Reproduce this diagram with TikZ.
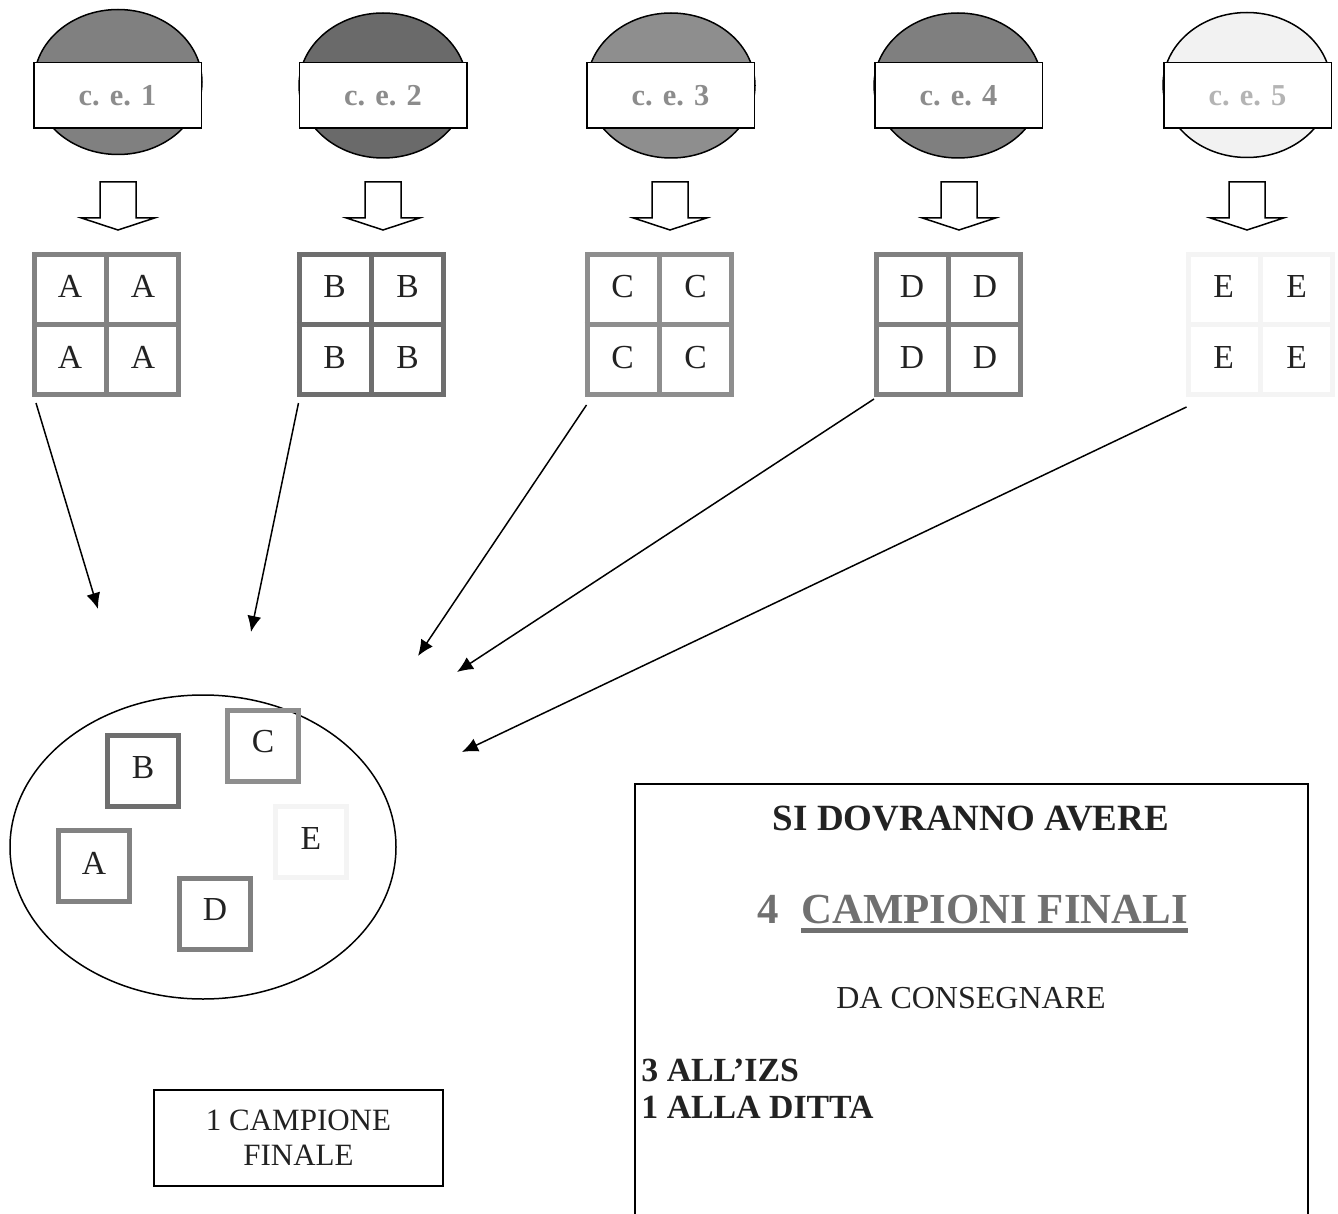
\documentclass[tikz,border=0pt]{standalone}
\usepackage{fontspec}
\setmainfont{Liberation Serif}
\usetikzlibrary{shapes.geometric,arrows.meta,calc}
\definecolor{ellA}{HTML}{808080}
\definecolor{ellB}{HTML}{6A6A6A}
\definecolor{ellC}{HTML}{8E8E8E}
\definecolor{ellD}{HTML}{7F7F7F}
\definecolor{ellE}{HTML}{F2F2F2}
\definecolor{grA}{HTML}{828282}
\definecolor{grB}{HTML}{6E6E6E}
\definecolor{grC}{HTML}{8E8E8E}
\definecolor{grD}{HTML}{808080}
\definecolor{grE}{HTML}{F4F4F4}
\definecolor{cetext}{HTML}{8C8C8C}
\definecolor{cetextE}{HTML}{B4B4B4}
\definecolor{darktext}{HTML}{222222}
\definecolor{campcol}{HTML}{707070}
\begin{document}
\begin{tikzpicture}[x=0.5pt,y=-0.5pt,
  topell/.style={ellipse, draw=black, line width=0.75pt, minimum width=84pt, minimum height=72.5pt, inner sep=0pt},
  celabel/.style={draw=black, fill=white, line width=0.75pt, minimum width=83.75pt, minimum height=32.75pt, inner sep=0pt, font=\fontsize{15.2}{17}\selectfont\bfseries},
  blockarr/.style={draw=black, fill=white, line width=0.75pt, line join=miter},
  gridbox/.style={draw=#1, line width=2.5pt, minimum width=72pt, minimum height=70pt, inner sep=0pt},
  gridline/.style={draw=#1, line width=2.5pt},
  cellletter/.style={inner sep=0pt, text=darktext, font=\fontsize{16.8}{18}\selectfont},
  smallsq/.style={draw=#1, line width=2.5pt, minimum width=35.5pt, minimum height=35.5pt, inner sep=0pt},
  thinarr/.style={draw=black, line width=0.75pt, -{Latex[length=8pt,width=7pt]}},
  txt/.style={inner sep=0pt}
]
\useasboundingbox (0,0) rectangle (1338,1214);

% ---------- top ellipses with labels ----------
\node[topell, fill=ellA] (e1) at (118,82) {};
\node[topell, fill=ellB] (e2) at (383,85.5) {};
\node[topell, fill=ellC] (e3) at (671,85.5) {};
\node[topell, fill=ellD] (e4) at (958,85.5) {};
\node[topell, fill=ellE] (e5) at (1247,85) {};

\node[celabel, text=cetext] (l1) at (117.5,95.5) {c. e. 1};
\node[celabel, text=cetext] (l2) at (383,95.5) {c. e. 2};
\node[celabel, text=cetext] (l3) at (670.5,95.5) {c. e. 3};
\node[celabel, text=cetext] (l4) at (958.5,95.5) {c. e. 4};
\node[celabel, text=cetextE] (l5) at (1247.5,95.5) {c. e. 5};

% ---------- hollow block arrows ----------
\foreach \ax in {118,383,670,959,1247}{
  \draw[blockarr] (\ax-18,182) -- (\ax+18,182) -- (\ax+18,218) -- (\ax+36.5,218)
     -- (\ax,230) -- (\ax-36.5,218) -- (\ax-18,218) -- cycle;
}

% ---------- 2x2 grids ----------
\foreach \n/\gx/\col/\L in {1/106.5/grA/A, 2/371/grB/B, 3/659/grC/C, 4/948.5/grD/D, 5/1260/grE/E}{
  \node[gridbox=\col] (g\n) at (\gx,324.5) {};
  \draw[gridline=\col] (g\n.north) -- (g\n.south);
  \draw[gridline=\col] (g\n.west) -- (g\n.east);
  \node[cellletter] (g\n a) at ($(g\n.center)+(-36.5,-38)$) {\L};
  \node[cellletter] (g\n b) at ($(g\n.center)+(36.5,-38)$) {\L};
  \node[cellletter] (g\n c) at ($(g\n.center)+(-36.5,33)$) {\L};
  \node[cellletter] (g\n d) at ($(g\n.center)+(36.5,33)$) {\L};
}

% ---------- thin arrows ----------
\coordinate (t1) at (98,609);
\coordinate (t2) at (251,632);
\coordinate (t3) at (418,656);
\coordinate (t4) at (457,672);
\coordinate (t5) at (462,752);
\draw[thinarr] ([shift={(2pt,-3pt)}]g1.south west) -- (t1);
\draw[thinarr] ([shift={(1pt,-3pt)}]g2.south west) -- (t2);
\draw[thinarr] ([shift={(1pt,-4pt)}]g3.south west) -- (t3);
\draw[thinarr] ([shift={(0pt,-1pt)}]g4.south west) -- (t4);
\draw[thinarr] ([shift={(0.5pt,-5pt)}]g5.south west) -- (t5);

% ---------- pooled sample ----------
\node[ellipse, draw=black, line width=0.75pt, minimum width=193pt, minimum height=152pt, inner sep=0pt] (pool) at (203,847) {};
\node[smallsq=grB] (sB) at (142.5,770.5) {};
\node[cellletter] at (143,768) {B};
\node[smallsq=grC] (sC) at (263,746) {};
\node[cellletter] at (263,742) {C};
\node[smallsq=grE] (sE) at (311,842) {};
\node[cellletter] at (311,838) {E};
\node[smallsq=grA] (sA) at (94,866) {};
\node[cellletter] at (94,863) {A};
\node[smallsq=grD] (sD) at (215,914) {};
\node[cellletter] at (215,910) {D};

% ---------- 1 campione finale ----------
\node[draw=black, line width=0.75pt, minimum width=144.5pt, minimum height=48pt, inner sep=0pt,
      align=center, text=darktext, font=\fontsize{15.5}{17.5}\selectfont] (one) at (298.5,1138)
      {1 CAMPIONE\\FINALE};

% ---------- right box ----------
\coordinate (rbl) at (635,1214);
\coordinate (rtr) at (1308,784);
\draw[black, line width=1pt] (rbl) |- (rtr) -- (rtr |- rbl);
\node[txt, font=\fontsize{18.5}{20}\selectfont\bfseries, text=darktext] (h1) at (971,819) {SI DOVRANNO AVERE};
\node[txt, anchor=base west, font=\fontsize{21.4}{23}\selectfont\bfseries, text=campcol] (four) at (757,923) {4};
\node[txt, anchor=base west, font=\fontsize{21.4}{23}\selectfont\bfseries, text=campcol] (camp) at (801,923) {CAMPIONI FINALI};
\draw[campcol, line width=2.5pt] ([yshift=-3.5pt]camp.base west) -- ([yshift=-3.5pt]camp.base east);
\node[txt, font=\fontsize{16}{18}\selectfont, text=darktext] (cons) at (971,998) {DA CONSEGNARE};
\node[txt, anchor=north west, align=left, font=\fontsize{16.9}{18.5}\selectfont\bfseries, text=darktext] (dist) at (641,1059)
      {3 ALL’IZS\\1 ALLA DITTA};
\end{tikzpicture}
\end{document}
